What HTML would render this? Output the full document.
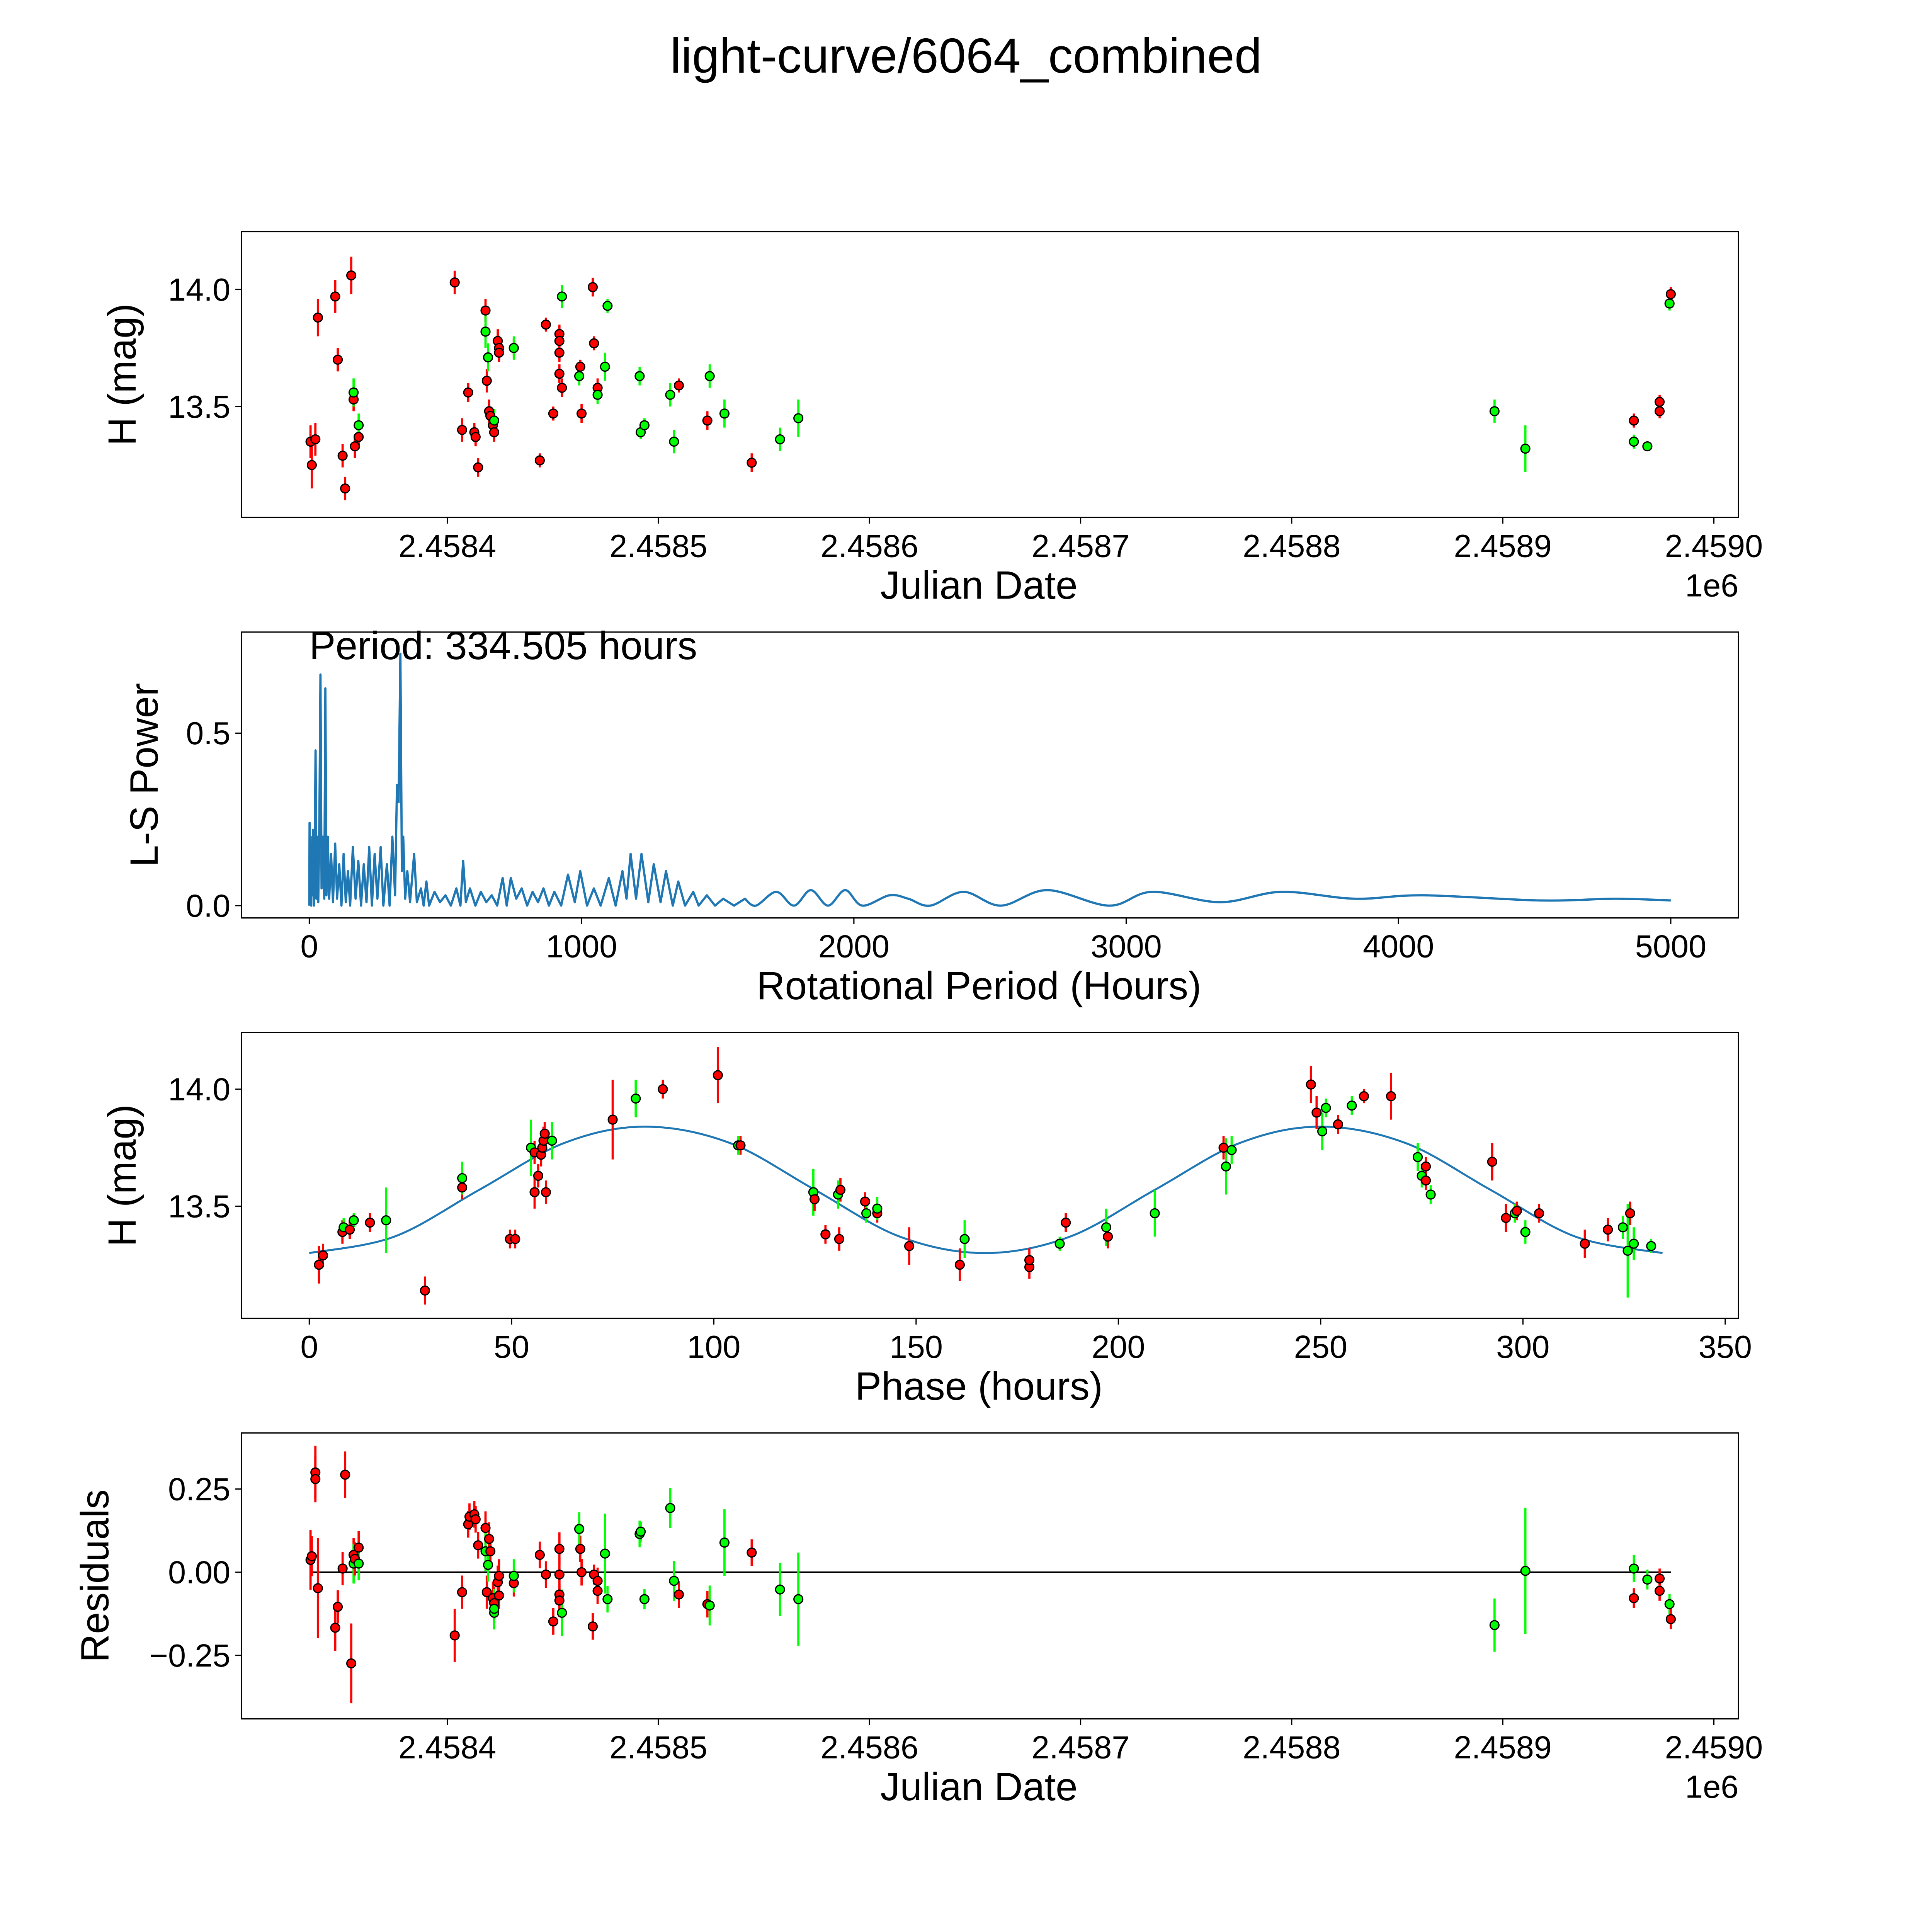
<!DOCTYPE html>
<html><head><meta charset="utf-8"><style>
html,body{margin:0;padding:0;background:#fff;overflow:hidden;width:100vw;height:100vh;}
svg{display:block;position:absolute;left:0;top:0;width:100vw;height:100vh;}
text{font-family:"Liberation Sans","DejaVu Sans",sans-serif;fill:#000;}
</style></head><body>
<svg id="fig" xmlns="http://www.w3.org/2000/svg" viewBox="0 0 1568 1568" preserveAspectRatio="none">
<rect x="0" y="0" width="1568" height="1568" fill="#fff"/>
<text x="784" y="59" font-size="40" text-anchor="middle">light-curve/6064_combined</text>
</svg>
<script>
const JD0 = 2458400;
// Panel 1: light curve (days from JD0, mag, err, color)
const lcDays = [-64.8,-64.2,-62.5,-61.3,-53.1,-51.9,-49.6,-48.4,-45.5,-44.4,-43.8,-42.0,-44.4,-42.0,3.5,7.0,9.9,12.8,13.4,14.6,18.1,18.7,19.8,20.4,21.6,22.2,23.9,24.5,24.5,31.5,18.1,19.3,22.2,31.5,43.8,46.7,50.2,53.1,53.1,53.1,53.1,54.3,63.0,63.6,68.9,69.5,71.2,54.3,62.5,71.2,74.7,75.9,91.1,91.6,93.4,105.6,107.4,124.3,131.3,157.6,166.3,496.1,510.7,562.1,568.5,579.0,109.7,123.2,144.2,562.1,574.3,574.3,579.6];
const lcMag = [13.35,13.25,13.36,13.88,13.97,13.70,13.29,13.15,14.06,13.53,13.33,13.37,13.56,13.42,14.03,13.40,13.56,13.39,13.37,13.24,13.91,13.61,13.48,13.46,13.42,13.39,13.78,13.75,13.73,13.75,13.82,13.71,13.44,13.75,13.27,13.85,13.47,13.81,13.78,13.73,13.64,13.58,13.67,13.47,14.01,13.77,13.58,13.97,13.63,13.55,13.67,13.93,13.63,13.39,13.42,13.55,13.35,13.63,13.47,13.36,13.45,13.48,13.32,13.35,13.33,13.94,13.59,13.44,13.26,13.44,13.52,13.48,13.98];
const lcErr = [0.07,0.1,0.07,0.08,0.07,0.05,0.05,0.05,0.08,0.05,0.05,0.05,0.06,0.05,0.05,0.05,0.04,0.04,0.04,0.04,0.05,0.05,0.05,0.04,0.05,0.04,0.05,0.05,0.04,0.04,0.07,0.06,0.05,0.05,0.03,0.03,0.03,0.04,0.04,0.04,0.04,0.04,0.03,0.04,0.04,0.03,0.04,0.05,0.04,0.04,0.06,0.03,0.04,0.03,0.03,0.05,0.05,0.05,0.06,0.05,0.08,0.05,0.1,0.03,0.02,0.03,0.03,0.04,0.04,0.03,0.03,0.03,0.03];
const lcColor = ['r','r','r','r','r','r','r','r','r','r','r','r','g','g','r','r','r','r','r','r','r','r','r','r','r','r','r','r','r','r','g','g','g','g','r','r','r','r','r','r','r','r','r','r','r','r','r','g','g','g','g','g','g','g','g','g','g','g','g','g','g','g','g','g','g','g','r','r','r','r','r','r','r'];

// Panel 2: periodogram
const lsPeriod = [0,1,3,5,7,9,11,14,17,20,23,26,29,33,37,41,45,50,55,59,63,68,73,80,87,95,102,110,118,126,134,142,150,160,170,180,190,200,210,220,230,240,250,262,272,285,295,305,315,322,328,334.5,340,345,352,360,370,385,395,410,420,430,440,460,480,500,520,540,555,565,575,590,610,630,650,670,690,710,725,740,760,780,800,820,840,860,880,900,925,950,975,995,1020,1045,1070,1100,1125,1150,1165,1180,1200,1220,1245,1265,1290,1310,1335,1355,1380,1410,1430,1460,1490,1520,1560,1600,1640,1715,1780,1842,1905,1968,2031,2131,2200,2280,2403,2540,2710,2937,3095,3345,3570,3840,4090,4520,4800,5000];
const lsPower = [0,0.24,0.02,0.2,0,0.18,0.03,0.22,0,0.15,0.45,0.02,0.2,0.01,0.25,0.67,0.05,0.2,0.02,0.63,0.03,0.2,0.02,0.15,0.01,0.18,0.02,0.12,0,0.15,0.01,0.1,0,0.17,0.02,0.13,0,0.12,0.01,0.17,0,0.15,0.02,0.17,0,0.12,0,0.2,0.03,0.35,0.3,0.73,0.1,0.2,0.02,0.1,0.01,0.15,0.01,0.05,0,0.07,0,0.04,0.01,0.03,0,0.05,0,0.13,0.01,0.05,0,0.04,0.01,0.03,0,0.08,0,0.08,0.02,0.05,0,0.04,0.01,0.05,0,0.04,0,0.09,0.01,0.1,0,0.05,0,0.08,0,0.1,0.02,0.15,0.02,0.15,0.01,0.12,0.01,0.1,0,0.07,0,0.04,0,0.03,0,0.02,0,0.02,0,0.04,0,0.045,0,0.045,0,0.03,0.02,0,0.04,0,0.045,0,0.04,0.01,0.04,0.02,0.03,0.015,0.02,0.015];

// Panel 3: phased curve
const phHours = [2.4,3.4,8.2,8.5,10,11,15,19,28.6,37.8,37.8,49.6,50.9,54.8,55.7,55.7,56.6,57.3,57.6,57.9,58.2,58.5,60,75,80.7,87.4,101,106,106.6,124.6,124.9,127.6,130.7,131.3,131,137.4,137.7,140.4,140.4,148.3,160.8,162,178,178,185.5,187,197,197.4,209,226,226.6,228,247.6,249,250.4,251.3,254.3,257.7,260.7,267.4,274,276,275,276,277.2,292.4,295.8,298,298.5,300.6,304,315.3,321,324.7,326.5,325.9,327.4,331.7];
const phMag = [13.25,13.29,13.39,13.41,13.40,13.44,13.43,13.44,13.14,13.58,13.62,13.36,13.36,13.75,13.73,13.56,13.63,13.72,13.75,13.78,13.81,13.56,13.78,13.87,13.96,14.0,14.06,13.76,13.76,13.56,13.53,13.38,13.55,13.57,13.36,13.52,13.47,13.47,13.49,13.33,13.25,13.36,13.24,13.27,13.34,13.43,13.41,13.37,13.47,13.75,13.67,13.74,14.02,13.90,13.82,13.92,13.85,13.93,13.97,13.97,13.71,13.67,13.63,13.61,13.55,13.69,13.45,13.47,13.48,13.39,13.47,13.34,13.40,13.41,13.47,13.31,13.34,13.33];
const phErr = [0.08,0.05,0.05,0.04,0.04,0.03,0.04,0.14,0.06,0.05,0.07,0.04,0.04,0.12,0.05,0.07,0.05,0.05,0.05,0.06,0.05,0.05,0.08,0.17,0.08,0.04,0.12,0.04,0.04,0.1,0.05,0.04,0.06,0.05,0.05,0.04,0.04,0.04,0.05,0.08,0.07,0.08,0.05,0.05,0.03,0.04,0.08,0.05,0.1,0.05,0.12,0.06,0.08,0.07,0.08,0.04,0.04,0.04,0.03,0.1,0.06,0.04,0.05,0.04,0.04,0.08,0.06,0.04,0.04,0.05,0.04,0.06,0.05,0.05,0.05,0.2,0.07,0.03];
const phColor = ['r','r','r','g','r','g','r','g','r','r','g','r','r','g','r','r','r','r','r','r','r','r','g','r','g','r','r','g','r','g','r','r','g','r','r','r','g','r','g','r','r','g','r','r','g','r','g','r','g','r','g','g','r','r','g','g','r','g','r','r','g','r','g','r','g','r','r','g','r','g','r','r','r','g','r','g','g','g'];
const modelPhase = [0,21,42,63,83,104,125,146,167,188,209,230,250,271,292,313,334.5];
const modelMag = [13.30,13.37,13.57,13.77,13.84,13.77,13.57,13.37,13.30,13.37,13.57,13.77,13.84,13.77,13.57,13.37,13.30];

// Panel 4: residuals
const resDays = [-64.8,-64.2,-62.5,-62.5,-61.3,-53.1,-51.9,-49.6,-48.4,-45.5,-44.4,-44.4,-43.8,-42.0,-42.0,3.5,7.0,9.9,10.5,12.8,13.4,14.6,18.1,18.7,18.1,19.3,19.8,20.4,21.6,22.2,22.2,23.9,24.5,22.2,24.5,31.5,31.5,43.8,46.7,50.2,53.1,53.1,53.1,53.1,54.3,63.0,62.5,63.6,68.9,69.5,71.2,71.2,74.7,75.9,91.1,91.6,93.4,105.6,107.4,109.7,123.2,124.3,131.3,144.2,157.6,166.3,496.1,510.7,562.1,562.1,568.5,574.3,574.3,579.0,579.6];
const resVal = [0.037,0.048,0.30,0.28,-0.048,-0.167,-0.104,0.011,0.293,-0.274,0.052,0.026,0.04,0.074,0.026,-0.19,-0.06,0.144,0.167,0.174,0.159,0.081,0.133,-0.06,0.063,0.022,0.1,0.063,-0.078,-0.093,-0.122,-0.03,-0.07,-0.11,-0.011,-0.033,-0.011,0.052,-0.007,-0.148,0.07,-0.067,-0.085,-0.007,-0.122,0.07,0.13,0,-0.163,-0.007,-0.056,-0.026,0.056,-0.081,0.115,0.122,-0.081,0.193,-0.026,-0.067,-0.096,-0.1,0.089,0.059,-0.052,-0.081,-0.159,0.004,0.011,-0.078,-0.022,-0.019,-0.056,-0.096,-0.141];
const resErr = [0.09,0.06,0.08,0.07,0.15,0.07,0.05,0.05,0.07,0.12,0.05,0.06,0.05,0.05,0.05,0.08,0.05,0.04,0.04,0.04,0.04,0.04,0.05,0.05,0.06,0.05,0.05,0.04,0.05,0.05,0.05,0.05,0.04,0.06,0.05,0.04,0.05,0.04,0.04,0.04,0.05,0.05,0.05,0.05,0.07,0.04,0.05,0.04,0.04,0.03,0.04,0.04,0.12,0.04,0.04,0.03,0.03,0.06,0.06,0.04,0.04,0.06,0.1,0.04,0.08,0.14,0.08,0.19,0.04,0.03,0.03,0.03,0.03,0.03,0.03];
const resColor = ['r','r','r','r','r','r','r','r','r','r','r','g','r','r','g','r','r','r','r','r','r','r','r','r','g','g','r','r','r','r','g','r','r','g','r','r','g','r','r','r','r','r','r','r','g','r','g','r','r','r','r','r','g','g','g','g','g','g','g','r','r','g','g','r','g','g','g','g','g','r','g','r','r','g','r'];

const xJdTicks = [0,100,200,300,400,500,600];
const xJdLabels = ['2.4584','2.4585','2.4586','2.4587','2.4588','2.4589','2.4590'];

const NS = 'http://www.w3.org/2000/svg';
const svg = document.getElementById('fig');
const TICK_FS = 26, LABEL_FS = 32;
function mk(tag, attrs, parent){
  const e = document.createElementNS(NS, tag);
  for (const k in attrs) e.setAttribute(k, attrs[k]);
  (parent||svg).appendChild(e);
  return e;
}
function makePanel(name, x0, y0, w, h, xmin, xmax, ymin, ymax){
  const g = mk('g', {});
  
  
  const sx = v => x0 + (v - xmin) / (xmax - xmin) * w;
  const sy = v => y0 + h - (v - ymin) / (ymax - ymin) * h;
  return {g, sx, sy, x0, y0, w, h};
}
function frame(p){
  const r = mk('rect', {x:p.x0, y:p.y0, width:p.w, height:p.h, fill:'none', stroke:'#000', 'stroke-width':1}, p.g);
  
  
}
function xTicks(p, vals, labels){
  vals.forEach((v,i)=>{
    const x = p.sx(v);
    mk('line', {x1:x, x2:x, y1:p.y0+p.h, y2:p.y0+p.h+5, stroke:'#000', 'stroke-width':1}, p.g);
    const t = mk('text', {x:x, y:p.y0+p.h+32, 'font-size':TICK_FS, 'text-anchor':'middle'}, p.g);
    t.textContent = labels[i];
    
    
  });
}
function yTicks(p, vals, labels){
  vals.forEach((v,i)=>{
    const y = p.sy(v);
    mk('line', {x1:p.x0-5, x2:p.x0, y1:y, y2:y, stroke:'#000', 'stroke-width':1}, p.g);
    const t = mk('text', {x:p.x0-9, y:y+9, 'font-size':TICK_FS, 'text-anchor':'end'}, p.g);
    t.textContent = labels[i];
    
    
  });
}
function xLabel(p, txt, y){
  const t = mk('text', {x:p.x0+p.w/2-9, y:y, 'font-size':LABEL_FS, 'text-anchor':'middle'}, p.g);
  t.textContent = txt;
  
  
}
function yLabel(p, txt, x){
  const cy = p.y0 + p.h/2;
  const t = mk('text', {x:x, y:cy, 'font-size':LABEL_FS, 'text-anchor':'middle', transform:`rotate(-90 ${x} ${cy})`}, p.g);
  t.textContent = txt;
  
  
}
function offsetText(p, y){
  const t = mk('text', {x:p.x0+p.w, y:y, 'font-size':TICK_FS, 'text-anchor':'end'}, p.g);
  t.textContent = '1e6';
  
  
}
function points(p, xs, ys, es, cs){
  const eg = mk('g', {}, p.g);
  const mg = mk('g', {}, p.g);
  xs.forEach((xv,i)=>{
    const col = cs[i]==='r' ? '#ff0000' : '#00ff00';
    const x = p.sx(xv);
    const l = mk('line', {x1:x, x2:x, y1:p.sy(ys[i]-es[i]), y2:p.sy(ys[i]+es[i]), stroke:col, 'stroke-width':1.8}, eg);
    
    
    const c = mk('circle', {cx:x, cy:p.sy(ys[i]), r:3.6, fill:col, stroke:'#000', 'stroke-width':1}, mg);
    
    
  });
}
function smoothPath(pts){
  let d = `M${pts[0][0]},${pts[0][1]}`;
  for (let i=0;i<pts.length-1;i++){
    const p0 = pts[Math.max(0,i-1)], p1 = pts[i], p2 = pts[i+1], p3 = pts[Math.min(pts.length-1,i+2)];
    const c1 = [p1[0]+(p2[0]-p0[0])/6, p1[1]+(p2[1]-p0[1])/6];
    const c2 = [p2[0]-(p3[0]-p1[0])/6, p2[1]-(p3[1]-p1[1])/6];
    d += ` C${c1[0]},${c1[1]} ${c2[0]},${c2[1]} ${p2[0]},${p2[1]}`;
  }
  return d;
}

// Panel 1
const p1 = makePanel('light-curve-panel', 196, 188, 1215, 232, -97.5, 611.7, 13.026, 14.247);
frame(p1);
xTicks(p1, xJdTicks, xJdLabels);
yTicks(p1, [13.5,14.0], ['13.5','14.0']);
xLabel(p1, 'Julian Date', 486);
yLabel(p1, 'H (mag)', 110);
offsetText(p1, 484);
points(p1, lcDays, lcMag, lcErr, lcColor);

// Panel 2
const p2 = makePanel('periodogram-panel', 196, 513, 1215, 232, -249, 5249, -0.0357, 0.793);
frame(p2);
xTicks(p2, [0,1000,2000,3000,4000,5000], ['0','1000','2000','3000','4000','5000']);
yTicks(p2, [0.0,0.5], ['0.0','0.5']);
xLabel(p2, 'Rotational Period (Hours)', 811);
yLabel(p2, 'L-S Power', 128);
{
  const split = lsPeriod.findIndex(v=>v>=1600);
  let d = '';
  for (let i=0;i<=split;i++) d += (i?'L':'M') + p2.sx(lsPeriod[i]) + ',' + p2.sy(lsPower[i]) + ' ';
  const sm = [];
  for (let i=split;i<lsPeriod.length;i++) sm.push([p2.sx(lsPeriod[i]), p2.sy(lsPower[i])]);
  d += smoothPath(sm).replace(/^M[^ ]+/, '');
  const path = mk('path', {d:d, fill:'none', stroke:'#1f77b4', 'stroke-width':1.8, 'stroke-linejoin':'round'}, p2.g);
  
  
  const t = mk('text', {x:251, y:535, 'font-size':LABEL_FS}, p2.g);
  t.textContent = 'Period: 334.505 hours';
  
  
}

// Panel 3
const p3 = makePanel('phased-curve-panel', 196, 838, 1215, 232, -16.75, 353.3, 13.021, 14.242);
frame(p3);
xTicks(p3, [0,50,100,150,200,250,300,350], ['0','50','100','150','200','250','300','350']);
yTicks(p3, [13.5,14.0], ['13.5','14.0']);
xLabel(p3, 'Phase (hours)', 1136);
yLabel(p3, 'H (mag)', 110);
{
  const path = mk('path', {d:smoothPath(modelPhase.map((v,i)=>[p3.sx(v), p3.sy(modelMag[i])])), fill:'none', stroke:'#1f77b4', 'stroke-width':1.6}, p3.g);
  
  
}
points(p3, phHours, phMag, phErr, phColor);

// Panel 4
const p4 = makePanel('residuals-panel', 196, 1163, 1215, 232, -97.5, 611.7, -0.4407, 0.4185);
frame(p4);
xTicks(p4, xJdTicks, xJdLabels);
yTicks(p4, [-0.25,0,0.25], ['\u22120.25','0.00','0.25']);
xLabel(p4, 'Julian Date', 1461);
yLabel(p4, 'Residuals', 88);
offsetText(p4, 1459);
{
  const zl = mk('line', {x1:p4.sx(-64.8), x2:p4.sx(579.6), y1:p4.sy(0), y2:p4.sy(0), stroke:'#000', 'stroke-width':1.3}, p4.g);
  
  
}
points(p4, resDays, resVal, resErr, resColor);
</script>
</body></html>
